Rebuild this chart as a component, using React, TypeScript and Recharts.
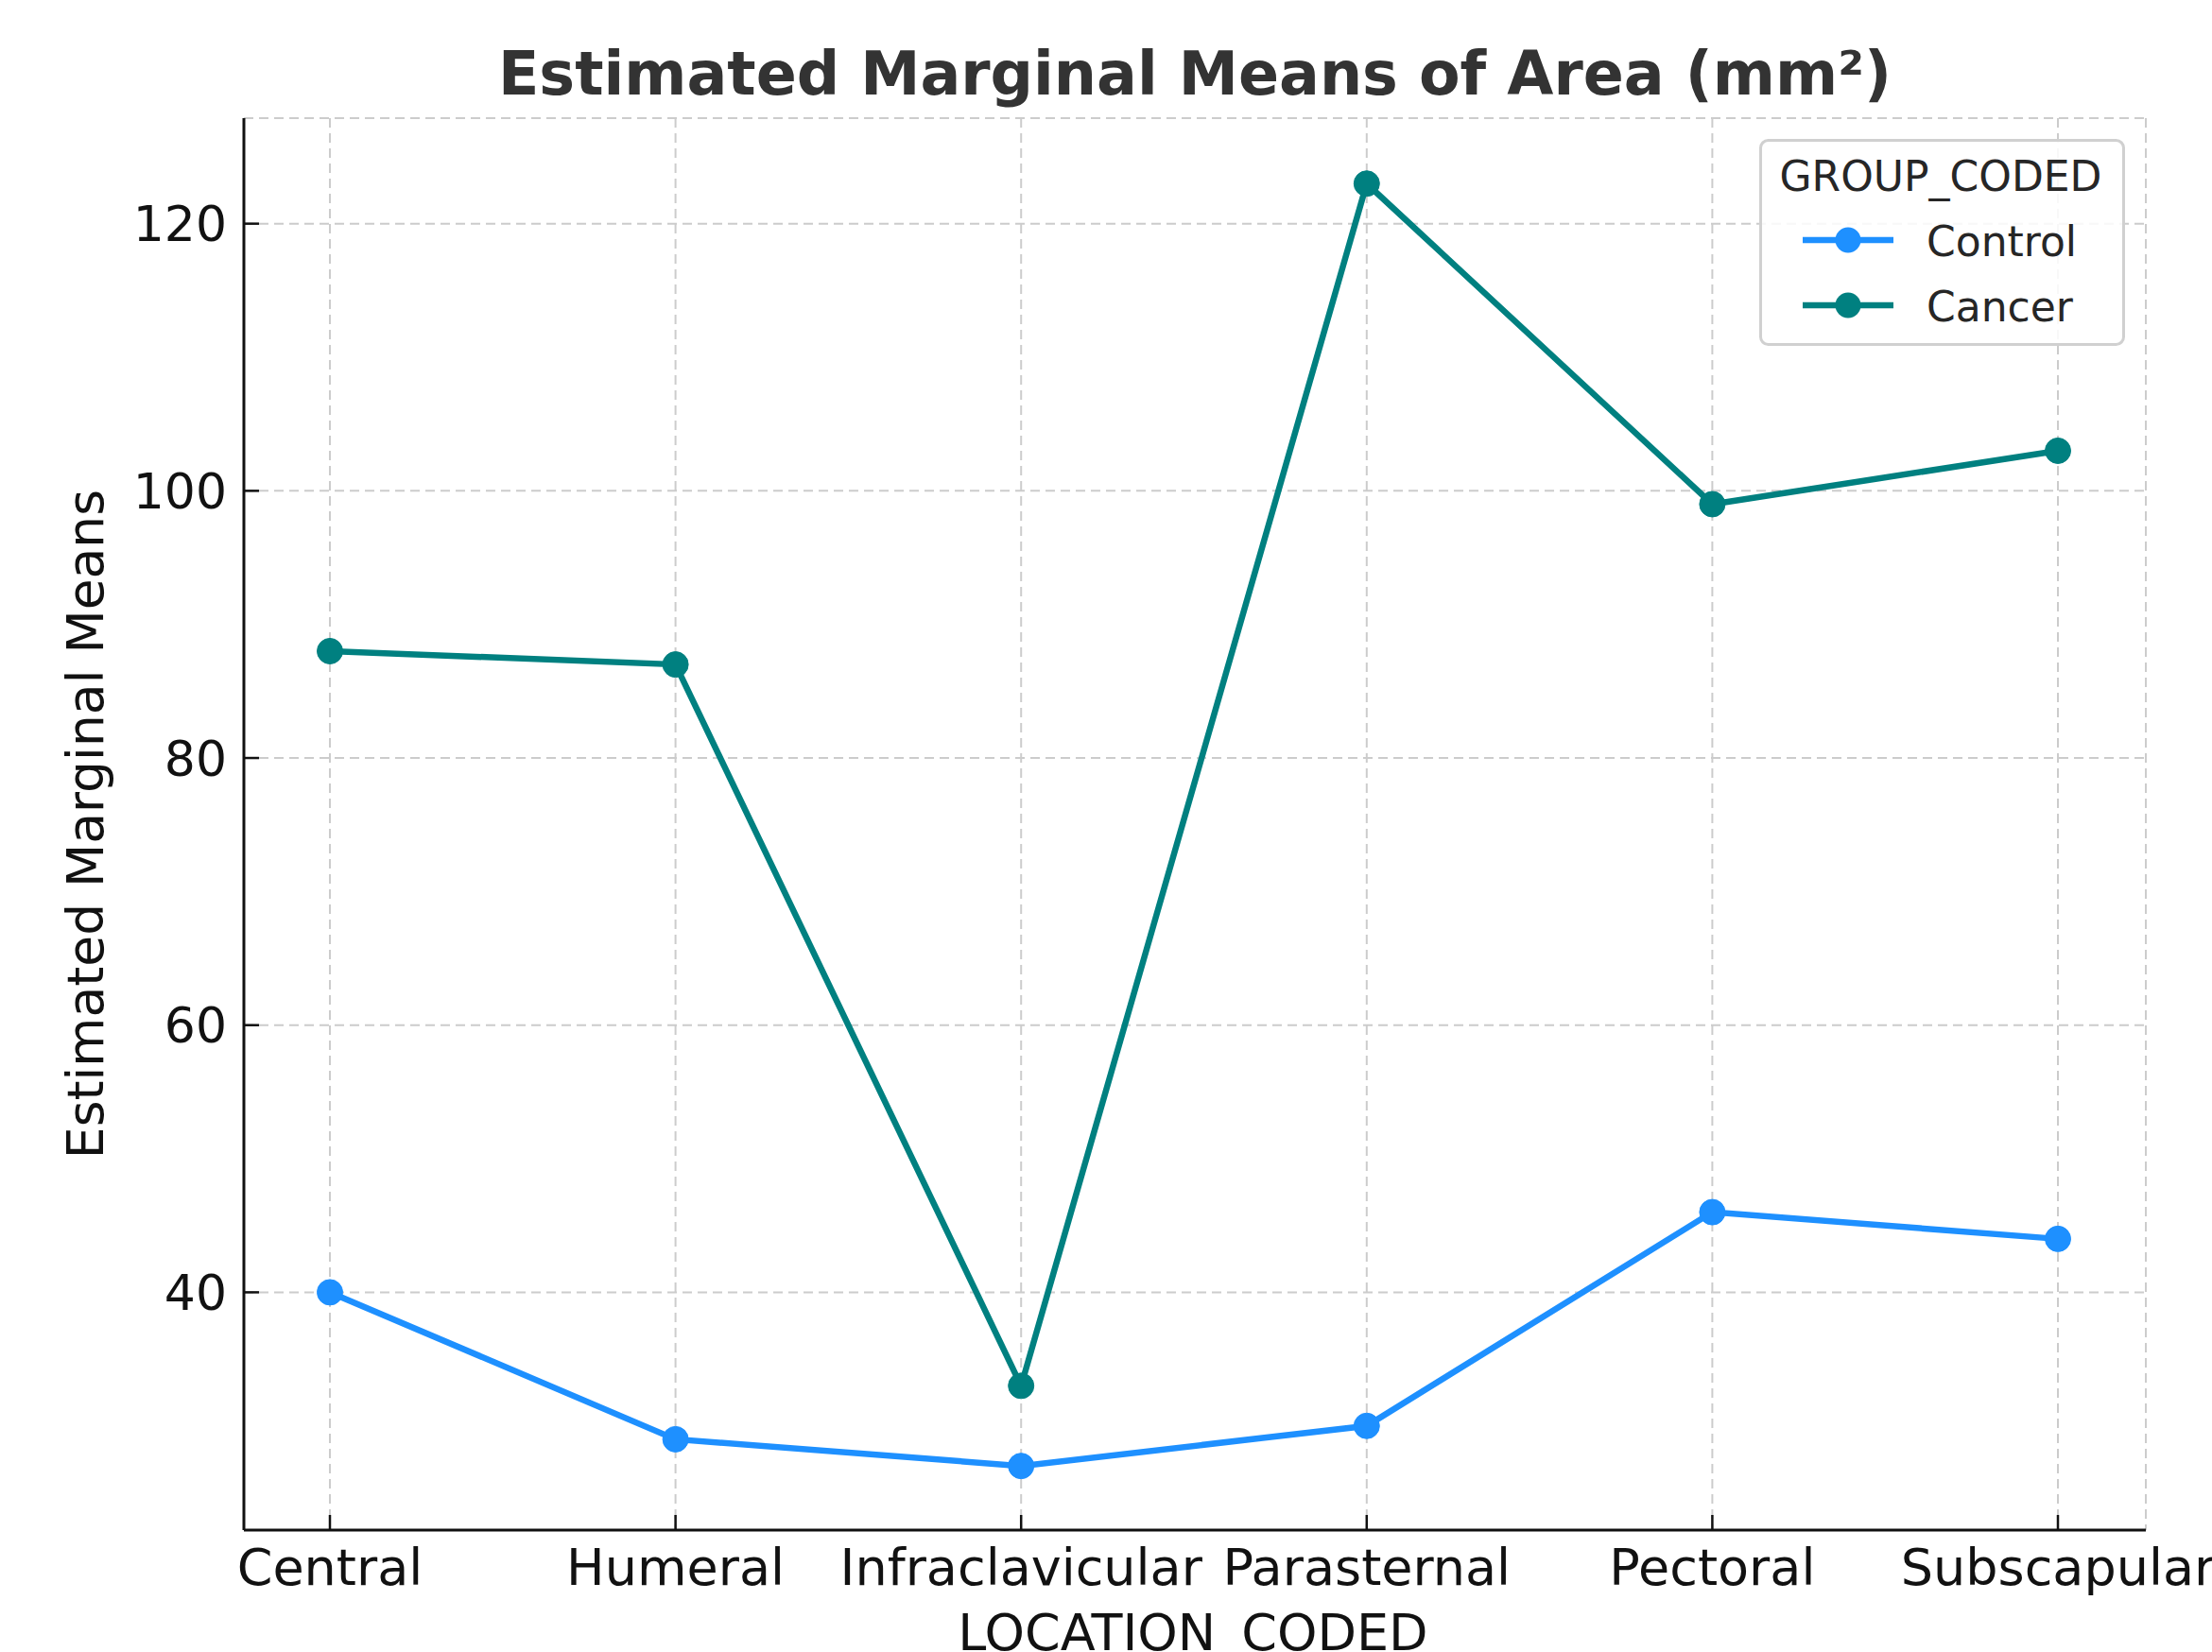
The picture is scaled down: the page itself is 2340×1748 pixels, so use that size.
import React from 'react';
import { LineChart, Line, XAxis, YAxis, CartesianGrid, Legend } from 'recharts';

const locations = ['Central', 'Humeral', 'Infraclavicular', 'Parasternal', 'Pectoral', 'Subscapular'];
const controlMeans = [40, 29, 27, 30, 46, 44];
const cancerMeans = [88, 87, 33, 123, 99, 103];
const yTicks = [40, 60, 80, 100, 120];
const yDomain = [22.2, 127.9];

const CONTROL_COLOR = '#1E90FF';
const CANCER_COLOR = '#008080';
const FONT = '"DejaVu Sans", "Noto Sans", sans-serif';

const data = locations.map((loc, i) => ({
  location: loc,
  Control: controlMeans[i],
  Cancer: cancerMeans[i],
}));

const W = 2340;
const H = 1748;
const PLOT_LEFT = 258;
const PLOT_TOP = 125;
const PLOT_RIGHT = 2270;
const PLOT_BOTTOM = 1619;

const YTick = (props: any) => {
  const { x, y, payload } = props;
  return (
    <g>
      <line x1={x} y1={y} x2={x + 16} y2={y} stroke="#111" strokeWidth={2.5} />
      <text x={x - 18} y={y} dy="0.36em" textAnchor="end" fontFamily={FONT} fontSize={52} fill="#111">
        {payload.value}
      </text>
    </g>
  );
};

const XTick = (props: any) => {
  const { x, y, payload } = props;
  return (
    <g>
      <line x1={x} y1={y} x2={x} y2={y - 16} stroke="#111" strokeWidth={2.5} />
      <text x={x} y={y + 58} textAnchor="middle" fontFamily={FONT} fontSize={54} fill="#111">
        {payload.value}
      </text>
    </g>
  );
};

const LegendBox = () => {
  const items = [
    { name: 'Control', color: CONTROL_COLOR },
    { name: 'Cancer', color: CANCER_COLOR },
  ];
  return (
    <svg width={387} height={219} style={{ display: 'block' }}>
      <rect x={1.5} y={1.5} width={384} height={216} rx={8} ry={8} fill="rgba(255,255,255,0.85)" stroke="#d0d0d0" strokeWidth={3} />
      <text x={192} y={55} textAnchor="middle" fontFamily={FONT} fontSize={44} fill="#262626">
        GROUP_CODED
      </text>
      {items.map((it, i) => {
        const cy = 107 + i * 69;
        return (
          <g key={it.name}>
            <line x1={46} y1={cy} x2={142} y2={cy} stroke={it.color} strokeWidth={6.5} />
            <circle cx={94} cy={cy} r={13.5} fill={it.color} />
            <text x={177} y={cy + 17} fontFamily={FONT} fontSize={44} fill="#262626">
              {it.name}
            </text>
          </g>
        );
      })}
    </svg>
  );
};

export default function App() {
  return (
    <div style={{ position: 'relative', width: W, height: H, overflow: 'hidden', background: '#fff' }}>
      <style>{'html,body{margin:0;padding:0;overflow:hidden;background:#fff}'}</style>
      <LineChart
        width={W}
        height={H}
        data={data}
        margin={{ top: PLOT_TOP, right: W - PLOT_RIGHT, bottom: 0, left: 0 }}
      >
        <CartesianGrid stroke="#cccccc" strokeWidth={2} strokeDasharray="10 6" />
        <XAxis
          dataKey="location"
          type="category"
          height={H - PLOT_BOTTOM}
          padding={{ left: 91, right: 93 }}
          axisLine={{ stroke: '#111', strokeWidth: 3 }}
          tickLine={false}
          tickSize={0}
          tickMargin={0}
          interval={0}
          tick={<XTick />}
        />
        <YAxis
          type="number"
          domain={yDomain}
          ticks={yTicks}
          width={PLOT_LEFT}
          axisLine={{ stroke: '#111', strokeWidth: 3 }}
          tickLine={false}
          tickSize={0}
          tickMargin={0}
          allowDataOverflow
          tick={<YTick />}
        />
        <Legend
          layout="vertical"
          align="center"
          verticalAlign="middle"
          content={<LegendBox />}
          wrapperStyle={{ position: 'absolute', left: 1861, top: 147, width: 387, height: 219 }}
        />
        <Line
          type="linear"
          dataKey="Control"
          stroke={CONTROL_COLOR}
          strokeWidth={6.5}
          dot={{ r: 13.5, fill: CONTROL_COLOR, stroke: CONTROL_COLOR, strokeWidth: 1 }}
          activeDot={false}
          isAnimationActive={false}
        />
        <Line
          type="linear"
          dataKey="Cancer"
          stroke={CANCER_COLOR}
          strokeWidth={6.5}
          dot={{ r: 13.5, fill: CANCER_COLOR, stroke: CANCER_COLOR, strokeWidth: 1 }}
          activeDot={false}
          isAnimationActive={false}
        />
      </LineChart>
      <svg
        width={W}
        height={H}
        style={{ position: 'absolute', left: 0, top: 0, pointerEvents: 'none' }}
      >
        <text x={1264} y={100} textAnchor="middle" fontFamily={FONT} fontWeight="bold" fontSize={63.5} fill="#333333">
          Estimated Marginal Means of Area (mm²)
        </text>
        <text x={1262} y={1746} textAnchor="middle" fontFamily={FONT} fontSize={54} fill="#111">
          LOCATION_CODED
        </text>
        <text
          x={109}
          y={(PLOT_TOP + PLOT_BOTTOM) / 2}
          textAnchor="middle"
          transform={`rotate(-90 109 ${(PLOT_TOP + PLOT_BOTTOM) / 2})`}
          fontFamily={FONT}
          fontSize={53.5}
          fill="#111"
        >
          Estimated Marginal Means
        </text>
      </svg>
    </div>
  );
}
